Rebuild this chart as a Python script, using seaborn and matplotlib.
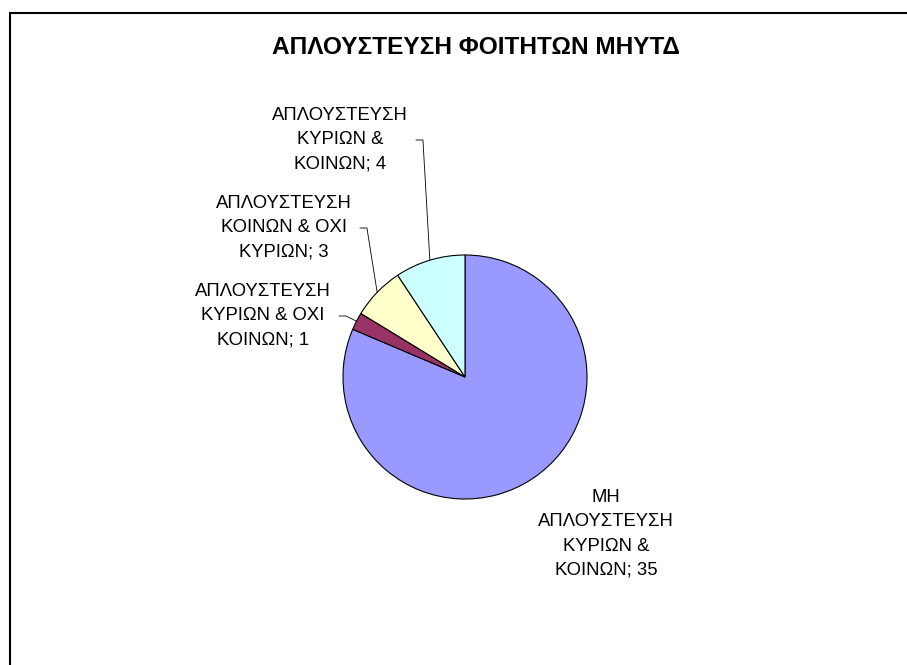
import matplotlib
matplotlib.use("Agg")
import matplotlib.pyplot as plt
import seaborn as sns
import numpy as np

# Data
categories = [
    "ΜΗ\nΑΠΛΟΥΣΤΕΥΣΗ\nΚΥΡΙΩΝ &\nΚΟΙΝΩΝ",
    "ΑΠΛΟΥΣΤΕΥΣΗ\nΚΥΡΙΩΝ & ΟΧΙ\nΚΟΙΝΩΝ",
    "ΑΠΛΟΥΣΤΕΥΣΗ\nΚΟΙΝΩΝ & ΟΧΙ\nΚΥΡΙΩΝ",
    "ΑΠΛΟΥΣΤΕΥΣΗ\nΚΥΡΙΩΝ &\nΚΟΙΝΩΝ",
]
values = [35, 1, 3, 4]
colors = ["#9999FF", "#993366", "#FFFFCC", "#CCFFFF"]
title = "ΑΠΛΟΥΣΤΕΥΣΗ ΦΟΙΤΗΤΩΝ ΜΗΥΤΔ"

# Label block centres in pixel space (x from left, y from top) and leader flags
label_pos = [(606, 534), (263, 316), (284, 228), (340, 140)]
leader = [False, True, True, True]

W, H = 907, 665
sns.set_theme(style="white")
plt.rcParams["font.family"] = ["Liberation Sans", "DejaVu Sans"]

fig = plt.figure(figsize=(W / 100, H / 100), dpi=100)
ax = fig.add_axes([0, 0, 1, 1])

# Chart-area frame (extends past the right and bottom edges)
ax.add_patch(plt.Rectangle((9.5, -20), W + 40, H - 12.5 + 20, fill=False,
                           edgecolor="black", linewidth=1.5))

cx, cy, r = 465, H - 377, 122
wedges, _ = ax.pie(values, colors=colors, startangle=90, counterclock=False,
                   center=(cx, cy), radius=r, frame=True,
                   wedgeprops=dict(edgecolor="black", linewidth=0.8))
ax.set_xlim(0, W)
ax.set_ylim(0, H)
ax.set_axis_off()

fig.text(476 / W, 1 - 47 / H, title, ha="center", va="center",
         fontsize=17.6, fontweight="bold", color="black")

texts = []
for cat, val, (lx, ly) in zip(categories, values, label_pos):
    t = ax.text(lx, H - ly, f"{cat}; {val}", ha="center", va="center",
                fontsize=13.3, linespacing=1.56, color="black")
    texts.append(t)

fig.canvas.draw()
renderer = fig.canvas.get_renderer()
for w, t, has_leader in zip(wedges, texts, leader):
    if not has_leader:
        continue
    mid = np.deg2rad((w.theta1 + w.theta2) / 2)
    px, py = cx + r * np.cos(mid), cy + r * np.sin(mid)
    bb = t.get_window_extent(renderer)
    x0 = bb.x1 + 8
    y0 = (bb.y0 + bb.y1) / 2
    ax.plot([x0, x0 + 7, px], [y0, y0, py], color="black", linewidth=0.6)

fig.savefig("out.png", dpi=100, facecolor="white")
